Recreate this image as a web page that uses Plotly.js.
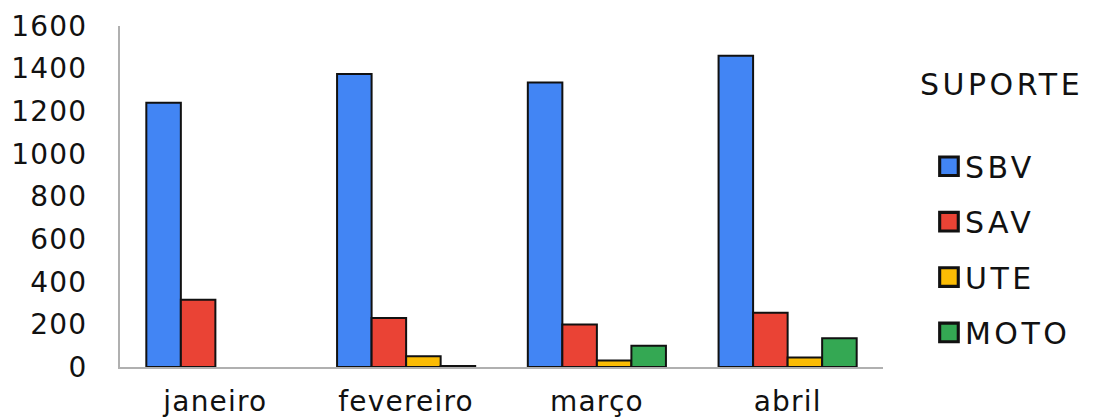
<!DOCTYPE html>
<html>
<head>
<meta charset="utf-8">
<script src="https://cdn.plot.ly/plotly-3.0.1.min.js"></script>
<style>
  html, body { margin: 0; padding: 0; background: #fff; }
  #chart { width: 1094px; height: 420px; }
  .xtick text, .ytick text { letter-spacing: 1.2px; }
  .legend text, .annotation-text { letter-spacing: 3.5px; }
  .legend .legendpoints path { transform: translate(24px, 0px) scale(1.55); }
  .legend g, .legend .scrollbox { clip-path: none !important; }
</style>
</head>
<body>
<div id="chart"></div>
<script>
const months = ["janeiro", "fevereiro", "março", "abril"];
const seriesNames = ["SBV", "SAV", "UTE", "MOTO"];
const sbv = [1240, 1375, 1335, 1460];
const sav = [315, 230, 200, 255];
const ute = [null, 50, 30, 45];
const moto = [null, 5, 100, 135];
const colors = ["#4285F4", "#EA4335", "#FBBC04", "#34A853"];
const yTicks = [0, 200, 400, 600, 800, 1000, 1200, 1400, 1600];
const legendTitle = "SUPORTE";

const values = [sbv, sav, ute, moto];
const FONT = "DejaVu Sans, Liberation Sans, Arial, sans-serif";

const traces = seriesNames.map((name, i) => ({
  type: "bar",
  name: name,
  x: months,
  y: values[i],
  legendgroup: name,
  marker: { color: colors[i], line: { color: "#111", width: 2 } },
  hoverinfo: "x+y+name"
}));

const layout = {
  width: 1094,
  height: 420,
  margin: { l: 120, r: 211, t: 26, b: 53 },
  paper_bgcolor: "#ffffff",
  plot_bgcolor: "#ffffff",
  font: { family: FONT, color: "#111", size: 28 },
  barmode: "group",
  bargap: 0.276,
  bargroupgap: 0,
  xaxis: {
    type: "category",
    showgrid: false,
    showline: true,
    linecolor: "#b0b0b0",
    linewidth: 2,
    ticks: "",
    zeroline: false,
    ticklabelstandoff: 8,
    tickfont: { family: FONT, size: 28, color: "#111" }
  },
  yaxis: {
    range: [0, 1600],
    tickvals: yTicks,
    showgrid: false,
    showline: true,
    linecolor: "#b0b0b0",
    linewidth: 2,
    ticks: "",
    zeroline: false,
    ticklabelstandoff: 25,
    tickfont: { family: FONT, size: 28, color: "#111" }
  },
  showlegend: true,
  legend: {
    x: 1.055,
    xanchor: "left",
    y: 0.665,
    yanchor: "top",
    traceorder: "grouped",
    tracegroupgap: 13.4,
    font: { family: FONT, size: 30, color: "#111" },
    bgcolor: "rgba(0,0,0,0)"
  },
  annotations: [{
    text: legendTitle,
    xref: "paper", yref: "paper",
    x: 1.046, y: 0.827,
    xanchor: "left", yanchor: "middle",
    showarrow: false,
    font: { family: FONT, size: 30, color: "#111" }
  }]
};

Plotly.newPlot("chart", traces, layout, { displayModeBar: false, staticPlot: true });
</script>
</body>
</html>
